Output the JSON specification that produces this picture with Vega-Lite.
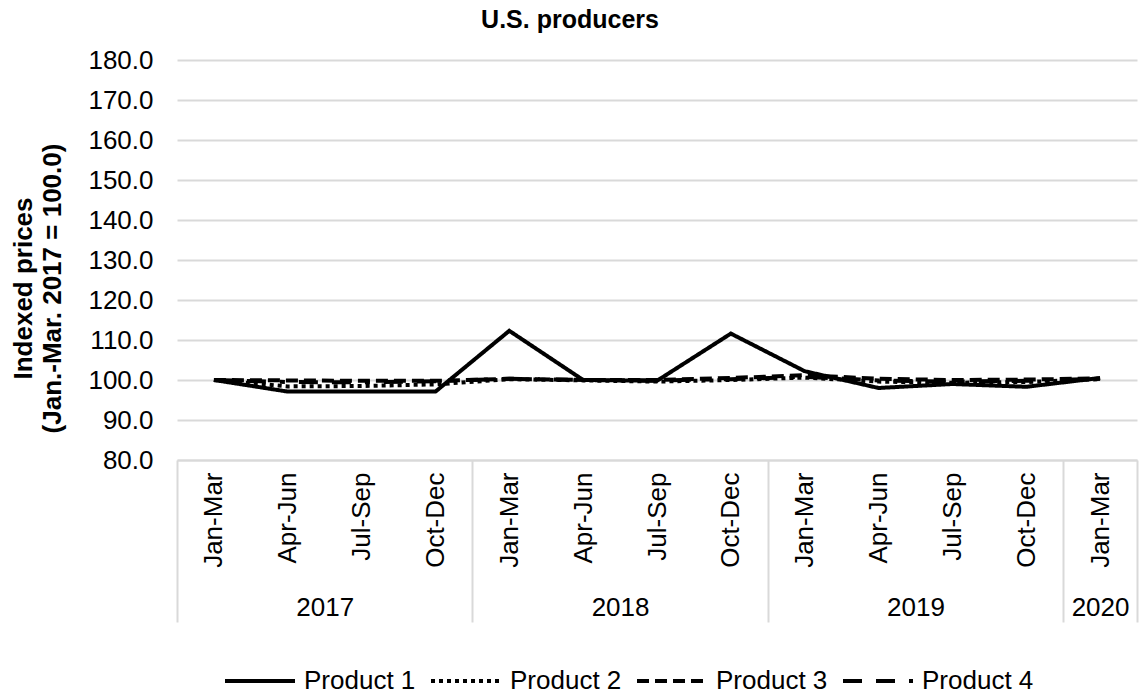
{
  "$schema": "https://vega.github.io/schema/vega-lite/v6.json",
  "width": 960,
  "height": 400,
  "autosize": "none",
  "padding": {"left": 177, "top": 60, "right": 3, "bottom": 238},
  "background": "white",
  "config": {
    "font": "Liberation Sans",
    "view": {"stroke": null},
    "axis": {"labelColor": "black", "titleColor": "black", "labelFont": "Liberation Sans", "titleFont": "Liberation Sans"}
  },
  "title": {"text": "U.S. producers", "fontSize": 25, "fontWeight": "bold", "color": "black", "anchor": "middle", "dx": -87, "offset": 14},
  "data": {
    "values": [
      {"idx": 0, "product": "Product 1", "value": 100.0},
      {"idx": 1, "product": "Product 1", "value": 97.1},
      {"idx": 2, "product": "Product 1", "value": 97.1},
      {"idx": 3, "product": "Product 1", "value": 97.1},
      {"idx": 4, "product": "Product 1", "value": 112.3},
      {"idx": 5, "product": "Product 1", "value": 100.0},
      {"idx": 6, "product": "Product 1", "value": 99.8},
      {"idx": 7, "product": "Product 1", "value": 111.6},
      {"idx": 8, "product": "Product 1", "value": 102.2},
      {"idx": 9, "product": "Product 1", "value": 98.0},
      {"idx": 10, "product": "Product 1", "value": 99.0},
      {"idx": 11, "product": "Product 1", "value": 98.3},
      {"idx": 12, "product": "Product 1", "value": 100.5},
      {"idx": 0, "product": "Product 2", "value": 100.0},
      {"idx": 1, "product": "Product 2", "value": 98.4},
      {"idx": 2, "product": "Product 2", "value": 98.5},
      {"idx": 3, "product": "Product 2", "value": 98.9},
      {"idx": 4, "product": "Product 2", "value": 100.2},
      {"idx": 5, "product": "Product 2", "value": 99.9},
      {"idx": 6, "product": "Product 2", "value": 99.6},
      {"idx": 7, "product": "Product 2", "value": 100.0},
      {"idx": 8, "product": "Product 2", "value": 100.6},
      {"idx": 9, "product": "Product 2", "value": 99.6},
      {"idx": 10, "product": "Product 2", "value": 99.3},
      {"idx": 11, "product": "Product 2", "value": 99.5},
      {"idx": 12, "product": "Product 2", "value": 100.2},
      {"idx": 0, "product": "Product 3", "value": 100.0},
      {"idx": 1, "product": "Product 3", "value": 99.9},
      {"idx": 2, "product": "Product 3", "value": 99.8},
      {"idx": 3, "product": "Product 3", "value": 99.8},
      {"idx": 4, "product": "Product 3", "value": 100.3},
      {"idx": 5, "product": "Product 3", "value": 100.0},
      {"idx": 6, "product": "Product 3", "value": 100.0},
      {"idx": 7, "product": "Product 3", "value": 100.5},
      {"idx": 8, "product": "Product 3", "value": 101.2},
      {"idx": 9, "product": "Product 3", "value": 100.3},
      {"idx": 10, "product": "Product 3", "value": 100.0},
      {"idx": 11, "product": "Product 3", "value": 100.1},
      {"idx": 12, "product": "Product 3", "value": 100.4},
      {"idx": 0, "product": "Product 4", "value": 100.0},
      {"idx": 1, "product": "Product 4", "value": 99.5},
      {"idx": 2, "product": "Product 4", "value": 99.4},
      {"idx": 3, "product": "Product 4", "value": 99.7},
      {"idx": 4, "product": "Product 4", "value": 100.3},
      {"idx": 5, "product": "Product 4", "value": 100.0},
      {"idx": 6, "product": "Product 4", "value": 99.9},
      {"idx": 7, "product": "Product 4", "value": 100.2},
      {"idx": 8, "product": "Product 4", "value": 100.8},
      {"idx": 9, "product": "Product 4", "value": 99.9},
      {"idx": 10, "product": "Product 4", "value": 99.6},
      {"idx": 11, "product": "Product 4", "value": 99.8},
      {"idx": 12, "product": "Product 4", "value": 100.3}
    ]
  },
  "layer": [
    {
      "mark": {"type": "line", "strokeWidth": 4, "color": "black", "strokeCap": "butt"},
      "encoding": {
        "x": {
          "field": "idx", "type": "quantitative",
          "scale": {"domain": [-0.5, 12.5], "nice": false, "zero": false},
          "axis": {
            "orient": "bottom", "title": null, "grid": false, "ticks": false, "tickSize": 0,
            "values": [0, 1, 2, 3, 4, 5, 6, 7, 8, 9, 10, 11, 12],
            "labelExpr": "['Jan-Mar','Apr-Jun','Jul-Sep','Oct-Dec'][datum.value % 4]",
            "labelAngle": -90, "labelFontSize": 26, "labelPadding": 12,
            "labelFlush": false, "labelOverlap": false,
            "domainColor": "#d9d9d9", "domainWidth": 2
          }
        },
        "y": {
          "field": "value", "type": "quantitative",
          "scale": {"domain": [80, 180], "nice": false, "zero": false},
          "axis": {
            "values": [80, 90, 100, 110, 120, 130, 140, 150, 160, 170, 180],
            "format": ".1f", "labelFontSize": 26, "labelPadding": 24,
            "ticks": false, "domain": false,
            "grid": true, "gridColor": "#d9d9d9", "gridWidth": 2,
            "title": ["Indexed prices", "(Jan.-Mar. 2017 = 100.0)"],
            "titleFontSize": 26, "titleFontWeight": "bold", "titleLineHeight": 29,
            "titlePadding": 22, "titleY": 228
          }
        },
        "strokeDash": {
          "field": "product", "type": "nominal",
          "scale": {
            "domain": ["Product 1", "Product 2", "Product 3", "Product 4"],
            "range": [[1, 0], [4, 4], [12, 6], [19, 14, 19, 14, 5, 14]]
          },
          "legend": {
            "orient": "none", "legendX": 46, "legendY": 584,
            "direction": "horizontal", "columns": 4, "title": null,
            "symbolType": "stroke", "symbolSize": 4900, "symbolStrokeWidth": 4,
            "symbolStrokeColor": "black",
            "labelFontSize": 26, "labelColor": "black", "labelOffset": 7,
            "columnPadding": 7
          }
        }
      }
    },
    {
      "mark": {"type": "point", "opacity": 0},
      "encoding": {
        "x": {
          "field": "idx", "type": "quantitative",
          "axis": {
            "orient": "bottom", "title": null, "grid": false, "labels": false, "domain": false,
            "ticks": true, "tickSize": 162, "tickColor": "#d9d9d9", "tickWidth": 2,
            "values": [-0.5, 3.5, 7.5, 11.5, 12.5]
          }
        }
      }
    },
    {
      "mark": {"type": "point", "opacity": 0},
      "encoding": {
        "x": {
          "field": "idx", "type": "quantitative",
          "axis": {
            "orient": "bottom", "title": null, "grid": false, "domain": false,
            "ticks": false, "tickSize": 0,
            "values": [1.5, 5.5, 9.5, 12],
            "labelExpr": "datum.value < 2 ? '2017' : datum.value < 6 ? '2018' : datum.value < 10 ? '2019' : '2020'",
            "labelFontSize": 26, "labelPadding": 147, "labelBaseline": "middle",
            "labelFlush": false, "labelOverlap": false
          }
        }
      }
    }
  ],
  "resolve": {"axis": {"x": "independent"}}
}
